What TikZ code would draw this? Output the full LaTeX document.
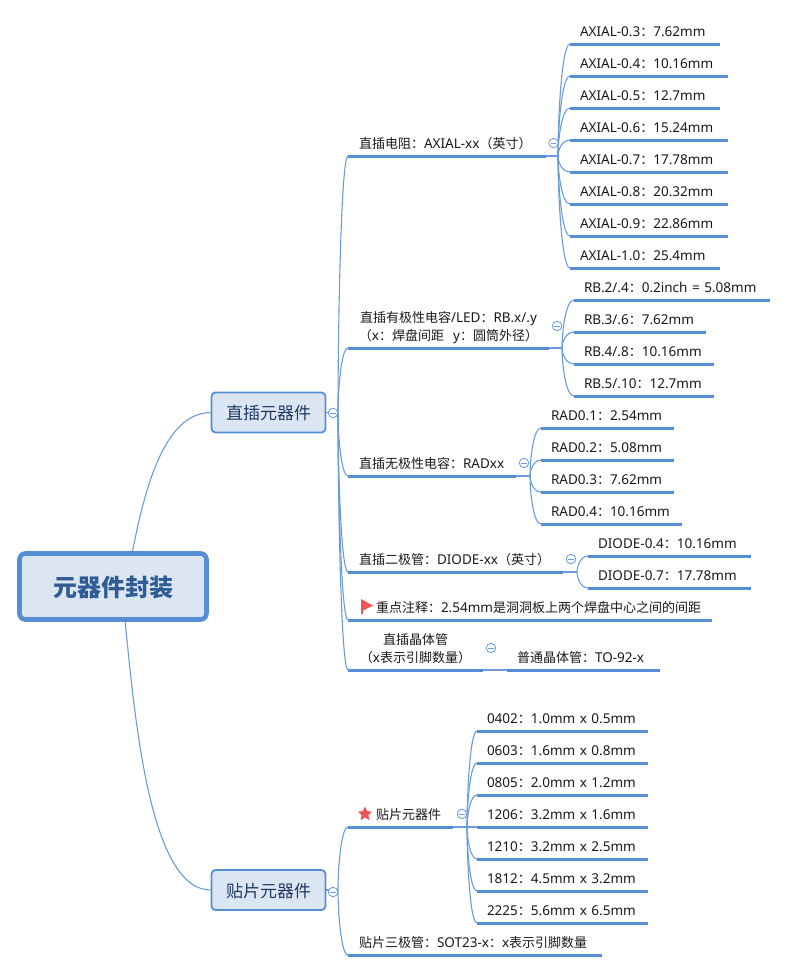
\documentclass[tikz,border=0pt]{standalone}
\usepackage{fontspec}
\usetikzlibrary{shapes.geometric, calc}
\setmainfont{Noto Sans}[Scale=1.04]
\newfontfamily\cjk{Noto Sans CJK SC}
\newcommand{\zh}[1]{{\cjk #1}}
\newcommand{\branchto}[2]{\draw[branch] (#1) .. controls ($(#1)!.33!(#1 |- #2)$) and ($(#1 |- #2)!.3!(#2)$) .. (#2);}
\definecolor{mapblue}{HTML}{558ED5}
\definecolor{thinblue}{HTML}{6A9BDC}
\definecolor{mapfill}{HTML}{DCE6F2}
\definecolor{maptext}{HTML}{1F3864}
\definecolor{roottext}{HTML}{2F5C93}
\definecolor{markred}{HTML}{F05555}
\tikzset{
    leaf/.style={anchor=south west, outer sep=0pt, inner xsep=10pt, inner ysep=8pt, text depth=0pt, text width=#1pt, align=left, text=black!90, font=\fontsize{13}{18}\selectfont},
    parent/.style={leaf=#1, inner xsep=11pt},
    midparent/.style={parent=#1, align=center, text depth=18pt},
    under/.style={draw=mapblue, line width=3pt},
    branch/.style={draw=thinblue, line width=1.1pt},
    topbox/.style={draw=mapblue, fill=mapfill, line width=1.8pt, rounded corners=4pt, minimum width=114pt, minimum height=40pt, text=maptext, text height=16pt, text depth=2pt, font=\cjk\fontsize{17}{20}\selectfont},
    collapse/.style={circle, draw=thinblue, fill=white, line width=0.8pt, inner sep=0pt, minimum size=9.5pt, path picture={\draw[thinblue, line width=0.9pt] ([xshift=-2.8pt]path picture bounding box.center) -- ([xshift=2.8pt]path picture bounding box.center);}}
}
\begin{document}
\begin{tikzpicture}[x=1pt, y=-1pt]
    \useasboundingbox (0,0) rectangle (786,972);

    % Main boxes
    \node[draw=mapblue, fill=mapfill, line width=4.6pt, rounded corners=6pt, minimum width=187pt, minimum height=66pt, text=roottext, text height=21pt, text depth=2pt, font=\cjk\bfseries\fontsize{24}{28}\selectfont] (root) at (113,586.5) {元器件封装};
    \node[topbox] (thru) at (268.5,412.5) {直插元器件};
    \node[topbox] (smd) at (268.5,890) {贴片元器件};

    % Through hole parts
    \node[parent=176] (res) at (348,156) {\zh{直插电阻：}AXIAL-xx\zh{（英寸）}};
    \node[midparent=185, inner xsep=8pt] (rb) at (348,348) {\zh{直插有极性电容}/LED\zh{：}RB.x/.y\\\zh{（}x\zh{：焊盘间距}\ \ y\zh{：圆筒外径）}};
    \node[parent=146] (rad) at (348,476) {\zh{直插无极性电容：}RADxx};
    \node[parent=193] (dio) at (348,572) {\zh{直插二极管：}DIODE-xx\zh{（英寸）}};
    \node[parent=342] (note) at (348,620) {\hspace*{17pt}\zh{重点注释：}2.54mm\zh{是洞洞板上两个焊盘中心之间的间距}};
    \node[midparent=113] (trans) at (348,670) {\zh{直插晶体管}\\\zh{（}x\zh{表示引脚数量）}};

    % Resistors
    \node[leaf=130] (ax03) at (570,44) {AXIAL-0.3\zh{：}7.62mm};
    \node[leaf=138] (ax04) at (570,76) {AXIAL-0.4\zh{：}10.16mm};
    \node[leaf=130] (ax05) at (570,108) {AXIAL-0.5\zh{：}12.7mm};
    \node[leaf=138] (ax06) at (570,140) {AXIAL-0.6\zh{：}15.24mm};
    \node[leaf=138] (ax07) at (570,172) {AXIAL-0.7\zh{：}17.78mm};
    \node[leaf=138] (ax08) at (570,204) {AXIAL-0.8\zh{：}20.32mm};
    \node[leaf=138] (ax09) at (570,236) {AXIAL-0.9\zh{：}22.86mm};
    \node[leaf=130] (ax10) at (570,268) {AXIAL-1.0\zh{：}25.4mm};

    % Polar capacitors
    \node[leaf=176] (rb2) at (574,300) {RB.2/.4\zh{：}0.2inch = 5.08mm};
    \node[leaf=112] (rb3) at (574,332) {RB.3/.6\zh{：}7.62mm};
    \node[leaf=120] (rb4) at (574,364) {RB.4/.8\zh{：}10.16mm};
    \node[leaf=120] (rb5) at (574,396) {RB.5/.10\zh{：}12.7mm};

    % Non polar capacitors
    \node[leaf=113] (rad1) at (541,428) {RAD0.1\zh{：}2.54mm};
    \node[leaf=113] (rad2) at (541,460) {RAD0.2\zh{：}5.08mm};
    \node[leaf=113] (rad3) at (541,492) {RAD0.3\zh{：}7.62mm};
    \node[leaf=121] (rad4) at (541,524) {RAD0.4\zh{：}10.16mm};

    % Diodes and transistor
    \node[leaf=143] (dio4) at (588,556) {DIODE-0.4\zh{：}10.16mm};
    \node[leaf=143] (dio7) at (588,588) {DIODE-0.7\zh{：}17.78mm};
    \node[leaf=133] (to92) at (507,670) {\zh{普通晶体管：}TO-92-x};

    % Surface mount parts
    \node[parent=83] (chip) at (348,827) {\hspace*{17pt}\zh{贴片元器件}};
    \node[parent=232] (sot) at (348,955) {\zh{贴片三极管：}SOT23-x\zh{：}x\zh{表示引脚数量}};
    \node[leaf=151] (s0402) at (477,731) {0402\zh{：}1.0mm x 0.5mm};
    \node[leaf=151] (s0603) at (477,763) {0603\zh{：}1.6mm x 0.8mm};
    \node[leaf=151] (s0805) at (477,795) {0805\zh{：}2.0mm x 1.2mm};
    \node[leaf=151] (s1206) at (477,827) {1206\zh{：}3.2mm x 1.6mm};
    \node[leaf=151] (s1210) at (477,859) {1210\zh{：}3.2mm x 2.5mm};
    \node[leaf=151] (s1812) at (477,891) {1812\zh{：}4.5mm x 3.2mm};
    \node[leaf=151] (s2225) at (477,923) {2225\zh{：}5.6mm x 6.5mm};

    % Branch points
    \coordinate (brThru) at (338,413);
    \coordinate (brSmd) at (338,890);
    \coordinate (brRes) at (558,156);
    \coordinate (brRb) at (562,348);
    \coordinate (brRad) at (530,476);
    \coordinate (brDio) at (577,572);
    \coordinate (brChip) at (467,827);

    % Draw connections
    \draw[branch] (root.61) .. controls (148,470) and (170,413) .. (thru.west);
    \draw[branch] (root.-71) .. controls (135,720) and (150,890) .. (smd.west);
    \draw[branch] (thru.east) -- (brThru);
    \draw[branch] (smd.east) -- (brSmd);
    \draw[branch] (res.south east) -- (brRes);
    \draw[branch] (rb.south east) -- (brRb);
    \draw[branch] (rad.south east) -- (brRad);
    \draw[branch] (dio.south east) -- (brDio);
    \draw[branch] (chip.south east) -- (brChip) -- (s1206.south west);
    \draw[branch] (trans.south east) -- (to92.south west);

    \foreach \item in {res,rb,rad,dio,note,trans}
        {\branchto{brThru}{\item.south west}}
    \foreach \item in {chip,sot}
        {\branchto{brSmd}{\item.south west}}
    \foreach \item in {ax03,ax04,ax05,ax06,ax07,ax08,ax09,ax10}
        {\branchto{brRes}{\item.south west}}
    \foreach \item in {rb2,rb3,rb4,rb5}
        {\branchto{brRb}{\item.south west}}
    \foreach \item in {rad1,rad2,rad3,rad4}
        {\branchto{brRad}{\item.south west}}
    \foreach \item in {dio4,dio7}
        {\branchto{brDio}{\item.south west}}
    \foreach \item in {s0402,s0603,s0805,s1206,s1210,s1812,s2225}
        {\branchto{brChip}{\item.south west}}

    % Underlines
    \foreach \item in {res,rb,rad,dio,note,trans,chip,sot,ax03,ax04,ax05,ax06,ax07,ax08,ax09,ax10,rb2,rb3,rb4,rb5,rad1,rad2,rad3,rad4,dio4,dio7,to92,s0402,s0603,s0805,s1206,s1210,s1812,s2225}
        \draw[under] (\item.south west) -- (\item.south east);

    % Collapse marks
    \node[collapse] (cThru) at (333,413) {};
    \node[collapse] (cSmd) at (333,892) {};
    \node[collapse] (cRes) at (553.5,143) {};
    \node[collapse] (cRb) at (557,326) {};
    \node[collapse] (cRad) at (524,463) {};
    \node[collapse] (cDio) at (571,559) {};
    \node[collapse] (cTrans) at (491,648) {};
    \node[collapse] (cChip) at (462,814) {};

    % Marks
    \fill[markred] (361,599) -- (373,605.5) -- (363,610.5) -- (363,614) -- (361,614) -- cycle;
    \node[star, star points=5, star point ratio=2.1, fill=markred, inner sep=0pt, minimum size=15pt] (starmark) at (365,814) {};
\end{tikzpicture}
\end{document}
